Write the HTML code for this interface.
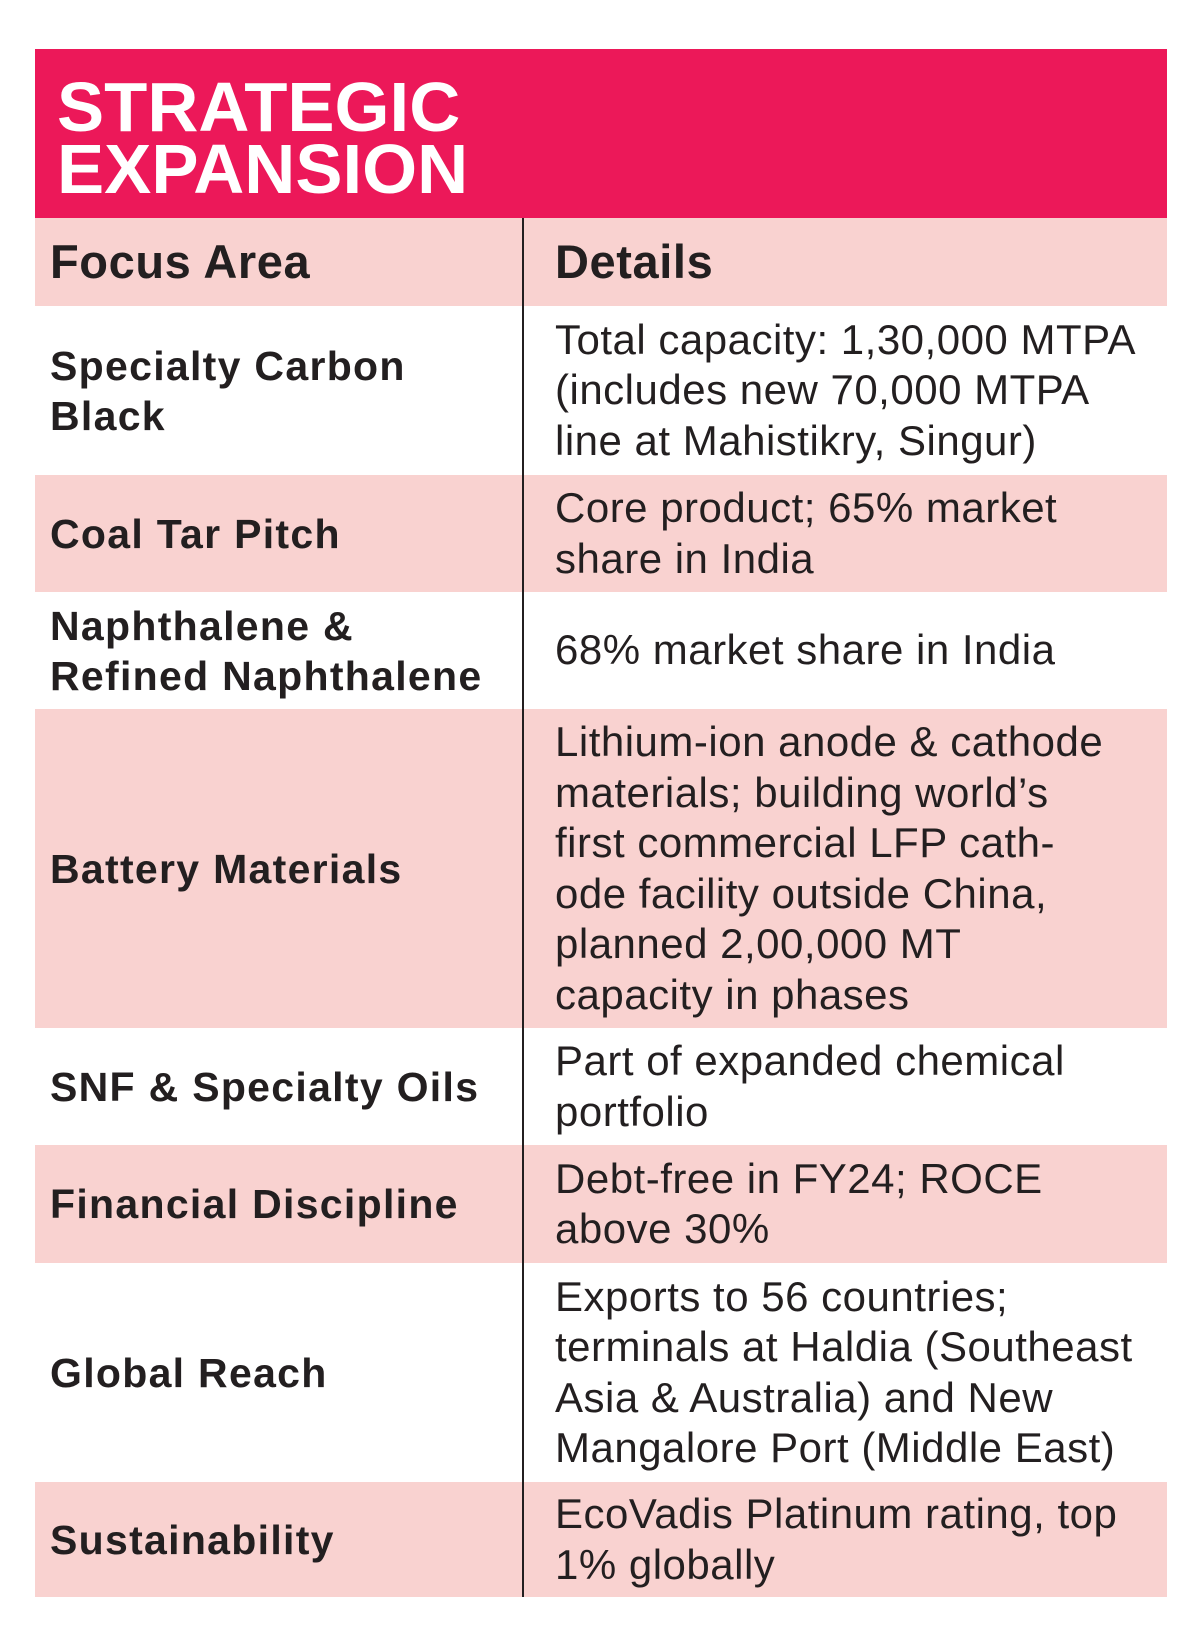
<!DOCTYPE html>
<html><head><meta charset="utf-8">
<style>
body{margin:0;width:1200px;height:1648px;background:#fff;position:relative;font-family:"Liberation Sans",sans-serif;color:#231f20;overflow:hidden}
.hdr{position:absolute;left:35px;top:49px;width:1132px;height:169px;background:#ec1859}
.title{position:absolute;left:57px;top:76px;color:#fff;font-weight:bold;font-size:70px;line-height:62px;letter-spacing:0px;transform:scaleX(1.01);transform-origin:left}
.row{position:absolute;left:35px;width:1132px;display:flex}
.pink{background:#f9d2d0}
.c1{width:488px;padding-left:15px;box-sizing:border-box;display:flex;align-items:center;font-weight:bold;font-size:41px;line-height:50px;letter-spacing:1.3px}
.c2{flex:1;padding-left:32px;display:flex;align-items:center;font-size:42px;line-height:50.5px;letter-spacing:0.5px;white-space:nowrap}
.hrow .c1,.hrow .c2{font-size:47px;font-weight:bold;letter-spacing:0.6px}
.div{position:absolute;left:522px;top:218px;width:2px;height:1379px;background:#231f20}
</style></head><body>
<div class="hdr"></div>
<div class="title">STRATEGIC<br>EXPANSION</div>
<div class="row pink hrow" style="top:218px;height:88px"><div class="c1">Focus Area</div><div class="c2">Details</div></div>
<div class="row" style="top:306px;height:169px"><div class="c1">Specialty Carbon<br>Black</div><div class="c2">Total capacity: 1,30,000 MTPA<br>(includes new 70,000 MTPA<br>line at Mahistikry, Singur)</div></div>
<div class="row pink" style="top:475px;height:117px"><div class="c1">Coal Tar Pitch</div><div class="c2">Core product; 65% market<br>share in India</div></div>
<div class="row" style="top:592px;height:117px"><div class="c1">Naphthalene &amp;<br>Refined Naphthalene</div><div class="c2">68% market share in India</div></div>
<div class="row pink" style="top:709px;height:319px"><div class="c1">Battery Materials</div><div class="c2">Lithium-ion anode &amp; cathode<br>materials; building world’s<br>first commercial LFP cath-<br>ode facility outside China,<br>planned 2,00,000 MT<br>capacity in phases</div></div>
<div class="row" style="top:1028px;height:117px"><div class="c1">SNF &amp; Specialty Oils</div><div class="c2">Part of expanded chemical<br>portfolio</div></div>
<div class="row pink" style="top:1145px;height:118px"><div class="c1">Financial Discipline</div><div class="c2">Debt-free in FY24; ROCE<br>above 30%</div></div>
<div class="row" style="top:1263px;height:219px"><div class="c1">Global Reach</div><div class="c2">Exports to 56 countries;<br>terminals at Haldia (Southeast<br>Asia &amp; Australia) and New<br>Mangalore Port (Middle East)</div></div>
<div class="row pink" style="top:1482px;height:115px"><div class="c1">Sustainability</div><div class="c2">EcoVadis Platinum rating, top<br>1% globally</div></div>
<div class="div"></div>
</body></html>
